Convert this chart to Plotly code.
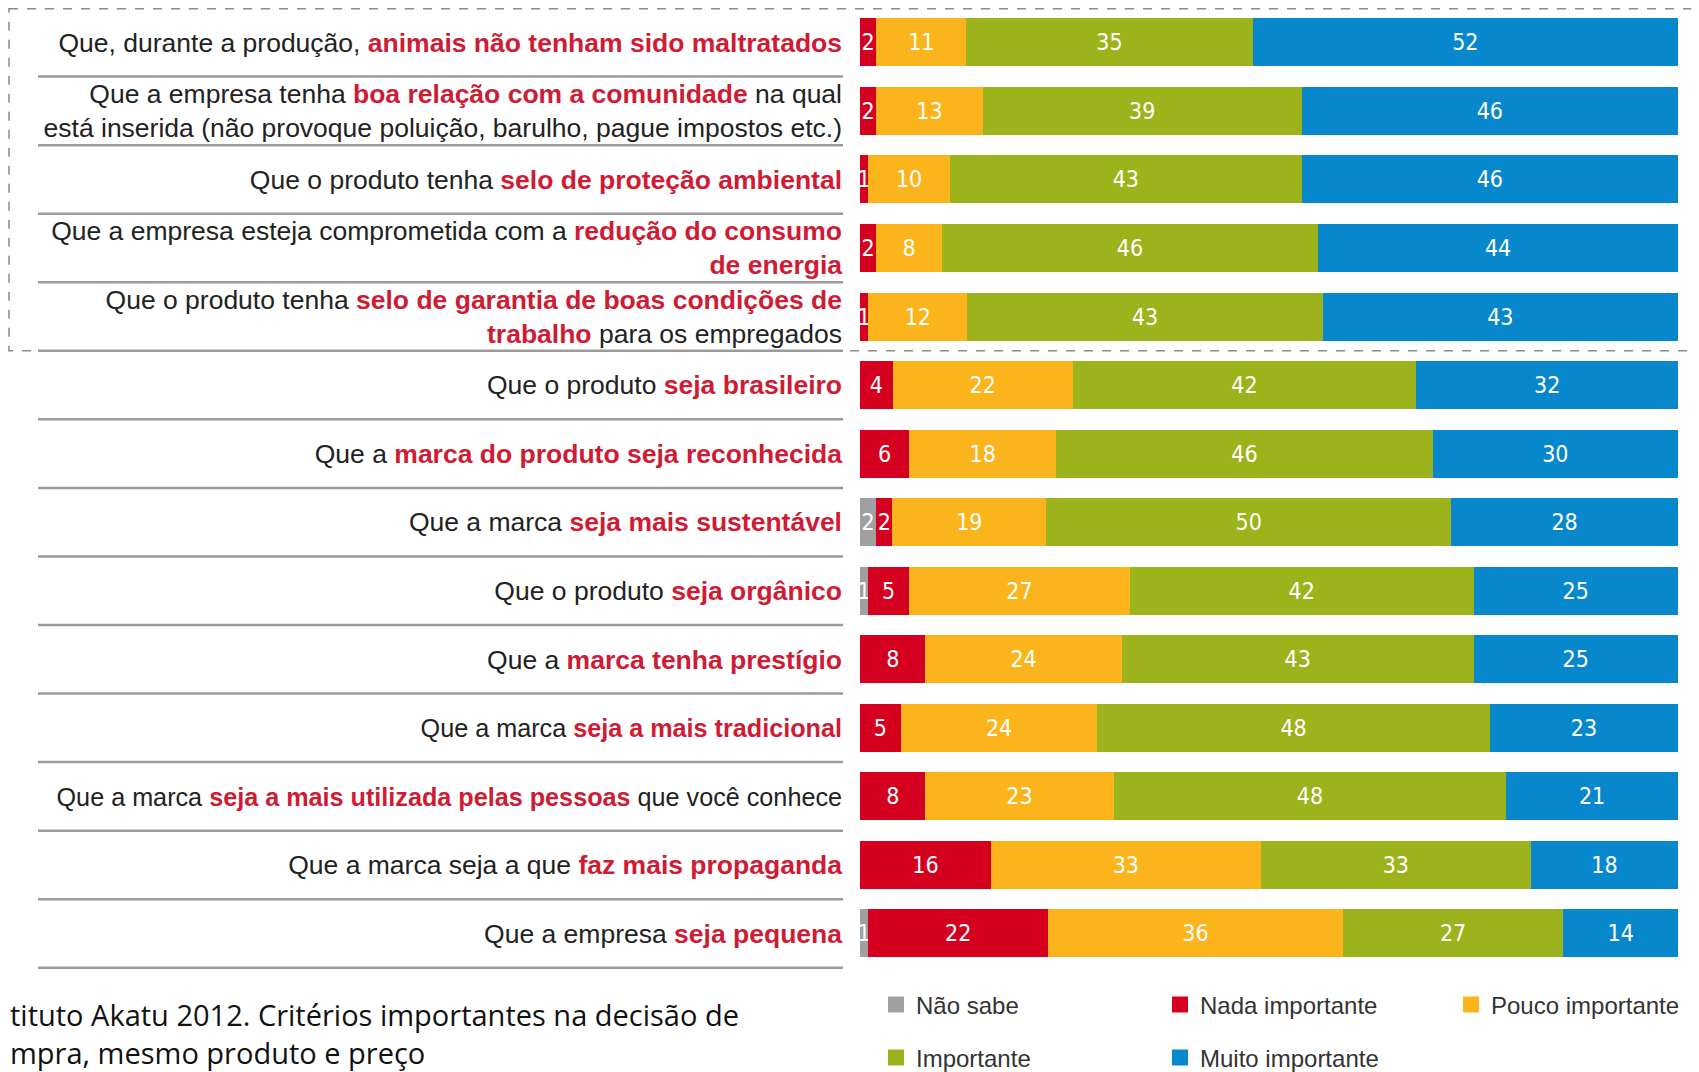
import plotly.graph_objects as go

# ---------------- data ----------------
prefix = [
    "Que, durante a produção, ",
    "Que a empresa tenha ",
    "Que o produto tenha ",
    "Que a empresa esteja comprometida com a ",
    "Que o produto tenha ",
    "Que o produto ",
    "Que a ",
    "Que a marca ",
    "Que o produto ",
    "Que a ",
    "Que a marca ",
    "Que a marca ",
    "Que a marca seja a que ",
    "Que a empresa ",
]
highlight = [
    "animais não tenham sido maltratados",
    "boa relação com a comunidade",
    "selo de proteção ambiental",
    "redução do consumo\nde energia",
    "selo de garantia de boas condições de\ntrabalho",
    "seja brasileiro",
    "marca do produto seja reconhecida",
    "seja mais sustentável",
    "seja orgânico",
    "marca tenha prestígio",
    "seja a mais tradicional",
    "seja a mais utilizada pelas pessoas",
    "faz mais propaganda",
    "seja pequena",
]
suffix = [
    "",
    " na qual\nestá inserida (não provoque poluição, barulho, pague impostos etc.)",
    "",
    "",
    " para os empregados",
    "",
    "",
    "",
    "",
    "",
    "",
    " que você conhece",
    "",
    "",
]

series_names = ["Não sabe", "Nada importante", "Pouco importante", "Importante", "Muito importante"]
nao_sabe = [0, 0, 0, 0, 0, 0, 0, 2, 1, 0, 0, 0, 0, 1]
nada_importante = [2, 2, 1, 2, 1, 4, 6, 2, 5, 8, 5, 8, 16, 22]
pouco_importante = [11, 13, 10, 8, 12, 22, 18, 19, 27, 24, 24, 23, 33, 36]
importante = [35, 39, 43, 46, 43, 42, 46, 50, 42, 43, 48, 48, 33, 27]
muito_importante = [52, 46, 46, 44, 43, 32, 30, 28, 25, 25, 23, 21, 18, 14]

# source note as visible in the reference (cropped at the left edge)
source_note_lines = [
    "tituto Akatu 2012. Critérios importantes na decisão de",
    "mpra, mesmo produto e preço",
]

# ---------------- geometry / styling ----------------
OFF = 8                      # page body margin of the html page
W, H = 1699 - OFF, 1072 - OFF
ML, MR, MT, MB = 852, 21, 0, 103
PW, PH = W - ML - MR, H - MT - MB

def px_x(p):                 # page pixel -> paper x
    return (p - OFF - ML) / PW

def px_y(p):                 # page pixel -> paper y
    return (H - MB - (p - OFF)) / PH

def cx(p):                   # page pixel -> container x
    return (p - OFF) / W

def cy(p):                   # page pixel -> container y
    return 1 - (p - OFF) / H

colors = ["#a0a0a0", "#d5001f", "#fbb41b", "#9db31b", "#0888cc"]
RED_TXT = "#cf1b34"
LABEL_FONT = "Liberation Sans, Arial, sans-serif"
LABEL_SIZE = 26.5
label_size_override = {10: 25.2, 11: 25.2}   # the two condensed labels

categories = [(p + h + s).replace("\n", " ") for p, h, s in zip(prefix, highlight, suffix)]
ticktext = []
for i, (p, h, s) in enumerate(zip(prefix, highlight, suffix)):
    t = (p + "<span style='color:%s'><b>%s</b></span>" % (RED_TXT, h) + s).replace("\n", "<br>")
    if i in label_size_override:
        t = "<span style='font-size:%.1fpx'>%s</span>" % (label_size_override[i], t)
    ticktext.append(t)

series = [nao_sabe, nada_importante, pouco_importante, importante, muito_importante]
legend_ids = ["legend", "legend2", "legend3", "legend4", "legend5"]

fig = go.Figure()
for name, vals, col in zip(series_names, series, colors):
    fig.add_trace(go.Bar(
        name=name,
        orientation="h",
        x=vals,
        y=categories,
        marker=dict(color=col, line=dict(width=0)),
        text=[str(v) if v else "" for v in vals],
        textposition="inside",
        insidetextanchor="middle",
        textangle=0,
        textfont=dict(color="white", size=23,
                      family="Liberation Sans Narrow, DejaVu Sans Condensed, Roboto, sans-serif"),
        showlegend=False,
        hoverinfo="x+y+name",
    ))

# legend entries (square swatches), one legend box per entry to mimic the 3-column grid
for name, col, lg in zip(series_names, colors, legend_ids):
    fig.add_trace(go.Scatter(
        name=name, x=[None], y=[None], mode="markers",
        marker=dict(symbol="square", size=16, color=col),
        legend=lg, showlegend=True, hoverinfo="skip",
    ))

shapes = []
for k in range(len(categories)):
    shapes.append(dict(type="line", xref="paper", yref="y",
                       x0=px_x(38), x1=px_x(843), y0=k + 0.5, y1=k + 0.5,
                       line=dict(color="#9a9a9a", width=2.5)))
shapes.append(dict(type="rect", xref="paper", yref="y",
                   x0=px_x(9), x1=px_x(1712), y0=-0.49, y1=4.5,
                   line=dict(color="#8a8a8a", width=1.5, dash="dash"),
                   fillcolor="rgba(0,0,0,0)", layer="below"))

legend_pos = [(916, 1005), (1200, 1005), (1491, 1005), (916, 1058), (1200, 1058)]
leg_layout = {}
for lg, (tx, ty) in zip(legend_ids, legend_pos):
    leg_layout[lg] = dict(
        xref="container", yref="container",
        x=cx(tx - 40), y=cy(ty), xanchor="left", yanchor="middle",
        orientation="v", bgcolor="rgba(0,0,0,0)", borderwidth=0,
        font=dict(size=24, color="#333333", family=LABEL_FONT),
    )

annotations = [dict(
    xref="paper", yref="paper",
    x=px_x(OFF), y=px_y(993),
    xanchor="left", yanchor="top", align="left",
    text="<br>".join(source_note_lines), showarrow=False,
    font=dict(size=29, color="#111111", family="Open Sans, Lato, sans-serif"),
)]

fig.update_layout(
    width=W, height=H,
    margin=dict(l=ML, r=MR, t=MT, b=MB, pad=0, autoexpand=False),
    showlegend=True,
    barmode="stack",
    barnorm="percent",
    bargap=0.3,
    plot_bgcolor="white",
    paper_bgcolor="white",
    font=dict(family=LABEL_FONT, color="#222222"),
    uniformtext=dict(minsize=23, mode="show"),
    shapes=shapes,
    xaxis=dict(visible=False, range=[0, 100], fixedrange=True),
    yaxis=dict(
        type="category",
        autorange="reversed",
        tickmode="array",
        tickvals=categories,
        ticktext=ticktext,
        ticks="",
        ticklabelstandoff=17,
        tickfont=dict(size=LABEL_SIZE, color="#222222", family=LABEL_FONT),
        showgrid=False, zeroline=False, showline=False,
    ),
    annotations=annotations,
    **leg_layout,
)

fig.write_html("out.html")
